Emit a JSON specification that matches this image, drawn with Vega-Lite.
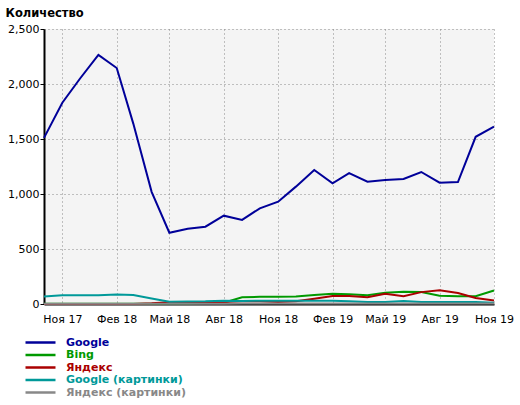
{
  "$schema": "https://vega.github.io/schema/vega-lite/v6.json",
  "width": 450,
  "height": 275,
  "autosize": {"type": "none"},
  "padding": {"left": 44, "top": 29, "right": 26, "bottom": 101},
  "background": "white",
  "config": {"view": {"fill": "#f4f4f4", "stroke": null}, "font": "DejaVu Sans"},
  "data": {"values": [
    {"month": "2017-10-01", "Google": 1510, "Bing": 3, "Яндекс": 1, "Google (картинки)": 68, "Яндекс (картинки)": 3},
    {"month": "2017-11-01", "Google": 1830, "Bing": 3, "Яндекс": 1, "Google (картинки)": 80, "Яндекс (картинки)": 3},
    {"month": "2017-12-01", "Google": 2050, "Bing": 3, "Яндекс": 1, "Google (картинки)": 80, "Яндекс (картинки)": 3},
    {"month": "2018-01-01", "Google": 2265, "Bing": 3, "Яндекс": 1, "Google (картинки)": 80, "Яндекс (картинки)": 3},
    {"month": "2018-02-01", "Google": 2145, "Bing": 3, "Яндекс": 1, "Google (картинки)": 86, "Яндекс (картинки)": 3},
    {"month": "2018-03-01", "Google": 1640, "Bing": 3, "Яндекс": 1, "Google (картинки)": 82, "Яндекс (картинки)": 3},
    {"month": "2018-04-01", "Google": 1020, "Bing": 3, "Яндекс": 6, "Google (картинки)": 50, "Яндекс (картинки)": 3},
    {"month": "2018-05-01", "Google": 648, "Bing": 4, "Яндекс": 15, "Google (картинки)": 20, "Яндекс (картинки)": 3},
    {"month": "2018-06-01", "Google": 685, "Bing": 5, "Яндекс": 15, "Google (картинки)": 22, "Яндекс (картинки)": 3},
    {"month": "2018-07-01", "Google": 703, "Bing": 8, "Яндекс": 16, "Google (картинки)": 24, "Яндекс (картинки)": 3},
    {"month": "2018-08-01", "Google": 803, "Bing": 12, "Яндекс": 18, "Google (картинки)": 30, "Яндекс (картинки)": 3},
    {"month": "2018-09-01", "Google": 764, "Bing": 62, "Яндекс": 25, "Google (картинки)": 28, "Яндекс (картинки)": 4},
    {"month": "2018-10-01", "Google": 870, "Bing": 65, "Яндекс": 25, "Google (картинки)": 30, "Яндекс (картинки)": 4},
    {"month": "2018-11-01", "Google": 930, "Bing": 66, "Яндекс": 18, "Google (картинки)": 30, "Яндекс (картинки)": 5},
    {"month": "2018-12-01", "Google": 1067, "Bing": 68, "Яндекс": 25, "Google (картинки)": 30, "Яндекс (картинки)": 5},
    {"month": "2019-01-01", "Google": 1218, "Bing": 82, "Яндекс": 48, "Google (картинки)": 30, "Яндекс (картинки)": 5},
    {"month": "2019-02-01", "Google": 1097, "Bing": 93, "Яндекс": 72, "Google (картинки)": 30, "Яндекс (картинки)": 5},
    {"month": "2019-03-01", "Google": 1190, "Bing": 88, "Яндекс": 72, "Google (картинки)": 25, "Яндекс (картинки)": 5},
    {"month": "2019-04-01", "Google": 1112, "Bing": 80, "Яндекс": 62, "Google (картинки)": 18, "Яндекс (картинки)": 5},
    {"month": "2019-05-01", "Google": 1127, "Bing": 103, "Яндекс": 93, "Google (картинки)": 18, "Яндекс (картинки)": 5},
    {"month": "2019-06-01", "Google": 1136, "Bing": 112, "Яндекс": 70, "Google (картинки)": 28, "Яндекс (картинки)": 5},
    {"month": "2019-07-01", "Google": 1200, "Bing": 108, "Яндекс": 108, "Google (картинки)": 18, "Яндекс (картинки)": 5},
    {"month": "2019-08-01", "Google": 1103, "Bing": 75, "Яндекс": 125, "Google (картинки)": 18, "Яндекс (картинки)": 5},
    {"month": "2019-09-01", "Google": 1109, "Bing": 70, "Яндекс": 100, "Google (картинки)": 18, "Яндекс (картинки)": 5},
    {"month": "2019-10-01", "Google": 1520, "Bing": 70, "Яндекс": 55, "Google (картинки)": 18, "Яндекс (картинки)": 5},
    {"month": "2019-11-01", "Google": 1612, "Bing": 123, "Яндекс": 32, "Google (картинки)": 12, "Яндекс (картинки)": 5}
  ]},
  "transform": [
    {"fold": ["Google", "Bing", "Яндекс", "Google (картинки)", "Яндекс (картинки)"], "as": ["series", "value"]}
  ],
  "mark": {"type": "line", "strokeWidth": 2},
  "encoding": {
    "x": {
      "field": "month",
      "type": "temporal",
      "scale": {"type": "utc", "domain": [
        {"year": 2017, "month": 10, "date": 1, "utc": true},
        {"year": 2019, "month": 11, "date": 1, "utc": true}
      ]},
      "axis": {
        "title": null,
        "values": [
          {"year": 2017, "month": 11, "date": 1, "utc": true},
          {"year": 2018, "month": 2, "date": 1, "utc": true},
          {"year": 2018, "month": 5, "date": 1, "utc": true},
          {"year": 2018, "month": 8, "date": 1, "utc": true},
          {"year": 2018, "month": 11, "date": 1, "utc": true},
          {"year": 2019, "month": 2, "date": 1, "utc": true},
          {"year": 2019, "month": 5, "date": 1, "utc": true},
          {"year": 2019, "month": 8, "date": 1, "utc": true},
          {"year": 2019, "month": 11, "date": 1, "utc": true}
        ],
        "labelExpr": "['Янв','Фев','Мар','Апр','Май','Июн','Июл','Авг','Сен','Окт','Ноя','Дек'][utcmonth(datum.value)] + ' ' + utcFormat(datum.value, '%y')",
        "labelFont": "DejaVu Sans",
        "labelFontSize": 11,
        "labelColor": "black",
        "labelPadding": 9,
        "labelFlush": false,
        "labelOverlap": false,
        "ticks": false,
        "domainColor": "black",
        "domainWidth": 2,
        "grid": true,
        "gridColor": "#888888",
        "gridDash": [1, 3],
        "gridWidth": 1
      }
    },
    "y": {
      "field": "value",
      "type": "quantitative",
      "scale": {"domain": [0, 2500], "nice": false},
      "axis": {
        "title": "Количество",
        "titleAngle": 0,
        "titleAlign": "left",
        "titleBaseline": "alphabetic",
        "titleX": -39,
        "titleY": -13,
        "titleFont": "DejaVu Sans",
        "titleFontSize": 11.5,
        "titleFontWeight": "bold",
        "titleColor": "black",
        "values": [0, 500, 1000, 1500, 2000, 2500],
        "format": ",d",
        "labelFont": "DejaVu Sans",
        "labelFontSize": 11,
        "labelColor": "black",
        "labelPadding": 1,
        "labelFlush": false,
        "tickSize": 4,
        "tickColor": "black",
        "tickWidth": 1,
        "domainColor": "black",
        "domainWidth": 2,
        "grid": true,
        "gridColor": "#888888",
        "gridDash": [1, 3],
        "gridWidth": 1
      }
    },
    "color": {
      "field": "series",
      "type": "nominal",
      "sort": ["Google", "Bing", "Яндекс", "Google (картинки)", "Яндекс (картинки)"],
      "scale": {
        "domain": ["Google", "Bing", "Яндекс", "Google (картинки)", "Яндекс (картинки)"],
        "range": ["#000099", "#009900", "#aa0000", "#009999", "#888888"]
      },
      "legend": {
        "title": null,
        "orient": "none",
        "legendX": -10,
        "legendY": 307,
        "symbolType": "M-3,0H3",
        "symbolSize": 100,
        "symbolStrokeWidth": 2.5,
        "labelFont": "DejaVu Sans",
        "labelFontSize": 11,
        "labelFontWeight": "bold",
        "labelOffset": 19,
        "rowPadding": 0.5,
        "padding": 0,
        "encode": {"labels": {"update": {"fill": {"scale": "color", "field": "value"}}}}
      }
    }
  }
}
